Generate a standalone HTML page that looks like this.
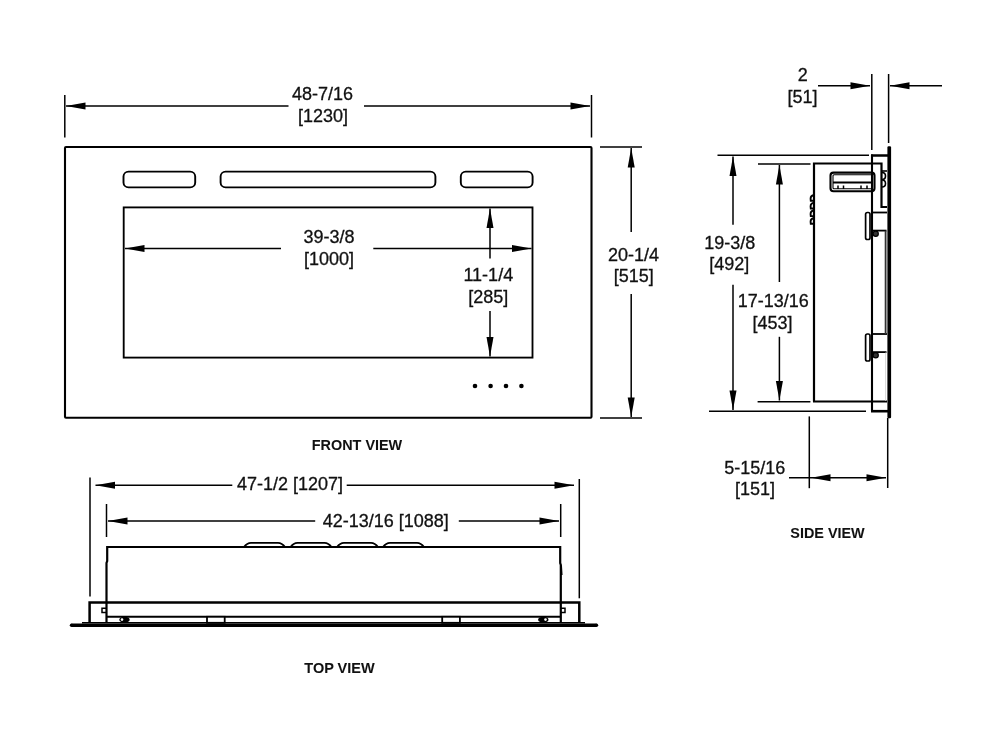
<!DOCTYPE html>
<html><head><meta charset="utf-8"><style>
html,body{margin:0;padding:0;background:#fff;width:1000px;height:750px;overflow:hidden}
svg{display:block;will-change:transform}
text{font-family:"Liberation Sans",sans-serif;fill:#111;stroke:#111;stroke-width:0.3px}
</style></head><body>
<svg width="1000" height="750" viewBox="0 0 1000 750">
<line x1="64.8" y1="95" x2="64.8" y2="137.5" stroke="#000" stroke-width="1.5"/>
<line x1="591.5" y1="95" x2="591.5" y2="137.5" stroke="#000" stroke-width="1.5"/>
<line x1="66" y1="106" x2="288.5" y2="106" stroke="#000" stroke-width="1.5"/>
<line x1="364" y1="106" x2="590" y2="106" stroke="#000" stroke-width="1.5"/>
<polygon points="66.00,106.00 85.50,102.50 85.50,109.50" fill="#000"/>
<polygon points="590.00,106.00 570.50,102.50 570.50,109.50" fill="#000"/>
<text x="322.5" y="100" font-size="18" text-anchor="middle">48-7/16</text>
<text x="323" y="122" font-size="18" text-anchor="middle">[1230]</text>
<rect x="65" y="147" width="526.5" height="270.8" rx="1" fill="none" stroke="#000" stroke-width="2.1"/>
<rect x="123.5" y="171.6" width="71.7" height="15.8" rx="5" fill="none" stroke="#000" stroke-width="1.9"/>
<rect x="220.6" y="171.6" width="214.8" height="15.8" rx="5" fill="none" stroke="#000" stroke-width="1.9"/>
<rect x="460.8" y="171.6" width="71.8" height="15.8" rx="5" fill="none" stroke="#000" stroke-width="1.9"/>
<rect x="123.7" y="207.4" width="408.8" height="150.2" fill="none" stroke="#000" stroke-width="1.85"/>
<line x1="125" y1="248.5" x2="281" y2="248.5" stroke="#000" stroke-width="1.5"/>
<line x1="373.3" y1="248.5" x2="531.5" y2="248.5" stroke="#000" stroke-width="1.5"/>
<polygon points="125.00,248.50 144.50,245.00 144.50,252.00" fill="#000"/>
<polygon points="531.50,248.50 512.00,245.00 512.00,252.00" fill="#000"/>
<text x="329" y="243" font-size="18" text-anchor="middle">39-3/8</text>
<text x="329" y="265" font-size="18" text-anchor="middle">[1000]</text>
<line x1="490" y1="208.5" x2="490" y2="258.6" stroke="#000" stroke-width="1.5"/>
<line x1="490" y1="311" x2="490" y2="356.5" stroke="#000" stroke-width="1.5"/>
<polygon points="490.00,208.50 486.50,228.00 493.50,228.00" fill="#000"/>
<polygon points="490.00,356.50 486.50,337.00 493.50,337.00" fill="#000"/>
<text x="488.3" y="281" font-size="18" text-anchor="middle">11-1/4</text>
<text x="488.2" y="303" font-size="18" text-anchor="middle">[285]</text>
<circle cx="475" cy="386" r="2.3" fill="#000"/>
<circle cx="490.6" cy="386" r="2.3" fill="#000"/>
<circle cx="506" cy="386" r="2.3" fill="#000"/>
<circle cx="521.4" cy="386" r="2.3" fill="#000"/>
<line x1="600" y1="147" x2="642" y2="147" stroke="#000" stroke-width="1.5"/>
<line x1="600" y1="418" x2="642" y2="418" stroke="#000" stroke-width="1.5"/>
<line x1="631.2" y1="148" x2="631.2" y2="232" stroke="#000" stroke-width="1.5"/>
<line x1="631.2" y1="294" x2="631.2" y2="417" stroke="#000" stroke-width="1.5"/>
<polygon points="631.20,148.00 627.70,167.50 634.70,167.50" fill="#000"/>
<polygon points="631.20,417.00 627.70,397.50 634.70,397.50" fill="#000"/>
<text x="633.5" y="260.6" font-size="18" text-anchor="middle">20-1/4</text>
<text x="633.7" y="282.3" font-size="18" text-anchor="middle">[515]</text>
<text x="357" y="449.6" font-size="14.4" font-weight="bold" style="stroke-width:0.05px" text-anchor="middle">FRONT VIEW</text>
<line x1="871.8" y1="74" x2="871.8" y2="150" stroke="#000" stroke-width="1.5"/>
<line x1="888.6" y1="74" x2="888.6" y2="143" stroke="#000" stroke-width="1.5"/>
<line x1="818" y1="85.8" x2="870" y2="85.8" stroke="#000" stroke-width="1.5"/>
<line x1="890" y1="85.8" x2="942" y2="85.8" stroke="#000" stroke-width="1.5"/>
<polygon points="870.00,85.80 850.50,82.30 850.50,89.30" fill="#000"/>
<polygon points="890.00,85.80 909.50,82.30 909.50,89.30" fill="#000"/>
<text x="802.8" y="80.9" font-size="18" text-anchor="middle">2</text>
<text x="802.6" y="102.5" font-size="18" text-anchor="middle">[51]</text>
<line x1="717.5" y1="155.3" x2="869" y2="155.3" stroke="#000" stroke-width="1.5"/>
<line x1="709" y1="411.3" x2="866" y2="411.3" stroke="#000" stroke-width="1.5"/>
<line x1="733" y1="156.5" x2="733" y2="224.8" stroke="#000" stroke-width="1.5"/>
<line x1="733" y1="284.8" x2="733" y2="410" stroke="#000" stroke-width="1.5"/>
<polygon points="733.00,156.50 729.50,176.00 736.50,176.00" fill="#000"/>
<polygon points="733.00,410.00 729.50,390.50 736.50,390.50" fill="#000"/>
<text x="729.8" y="248.5" font-size="18" text-anchor="middle">19-3/8</text>
<text x="729.2" y="270" font-size="18" text-anchor="middle">[492]</text>
<line x1="758" y1="164" x2="810.5" y2="164" stroke="#000" stroke-width="1.5"/>
<line x1="757.6" y1="401.7" x2="810.4" y2="401.7" stroke="#000" stroke-width="1.5"/>
<line x1="779.4" y1="165" x2="779.4" y2="282" stroke="#000" stroke-width="1.5"/>
<line x1="779.4" y1="336.8" x2="779.4" y2="400.5" stroke="#000" stroke-width="1.5"/>
<polygon points="779.40,165.00 775.90,184.50 782.90,184.50" fill="#000"/>
<polygon points="779.40,400.50 775.90,381.00 782.90,381.00" fill="#000"/>
<text x="773.2" y="307.2" font-size="18" text-anchor="middle">17-13/16</text>
<text x="772.6" y="328.8" font-size="18" text-anchor="middle">[453]</text>
<path d="M814,401.5 L814,163.5 L881.5,163.5 L881.5,207 L887,207" fill="none" stroke="#000" stroke-width="2.2" />
<line x1="813" y1="401.5" x2="887" y2="401.5" stroke="#000" stroke-width="2.2"/>
<line x1="872" y1="154.5" x2="872" y2="411.3" stroke="#000" stroke-width="2.1"/>
<line x1="871" y1="155.5" x2="888" y2="155.5" stroke="#000" stroke-width="2.5"/>
<line x1="871" y1="411.2" x2="888" y2="411.2" stroke="#000" stroke-width="2.6"/>
<rect x="887.4" y="146.2" width="3.7" height="272" rx="1.2" fill="#000"/>
<path d="M881.5,171 L887,171" fill="none" stroke="#000" stroke-width="1.6" />
<path d="M882,172.5 Q885.5,172.5 885.5,176 Q885.5,179.5 882,179.5 M882,180 Q885.5,180 885.5,183.5 Q885.5,187 882,187" fill="none" stroke="#000" stroke-width="1.6" />
<rect x="830.5" y="172.6" width="44" height="18.6" rx="3" fill="none" stroke="#000" stroke-width="2.1"/>
<rect x="833" y="174.8" width="39" height="14" rx="1" fill="none" stroke="#000" stroke-width="1.1"/>
<line x1="833" y1="182.5" x2="872" y2="182.5" stroke="#000" stroke-width="2.2"/>
<path d="M838,185.5 L838,189 M843.5,185.5 L843.5,189 M861,185.5 L861,189 M867,185.5 L867,189" fill="none" stroke="#000" stroke-width="1.5" />
<path d="M814,195.2 C811.5,195.2 810.6,197.2 810.6,198.79999999999998 L810.8,200.79999999999998 L814,200.79999999999998" fill="none" stroke="#000" stroke-width="1.9" />
<path d="M814,202.9 C811.5,202.9 810.6,204.9 810.6,206.5 L810.8,208.5 L814,208.5" fill="none" stroke="#000" stroke-width="1.9" />
<path d="M814,210.5 C811.5,210.5 810.6,212.5 810.6,214.1 L810.8,216.1 L814,216.1" fill="none" stroke="#000" stroke-width="1.9" />
<path d="M814,218.2 C811.5,218.2 810.6,220.2 810.6,221.79999999999998 L810.8,223.79999999999998 L814,223.79999999999998" fill="none" stroke="#000" stroke-width="1.9" />
<line x1="872" y1="212.5" x2="887" y2="212.5" stroke="#000" stroke-width="1.8"/>
<rect x="865.6" y="212.5" width="4.4" height="27" rx="1.8" fill="none" stroke="#000" stroke-width="1.7"/>
<line x1="872" y1="230.6" x2="886.5" y2="230.6" stroke="#000" stroke-width="1.8"/>
<circle cx="875.7" cy="233.8" r="2.6" fill="#333" stroke="#000" stroke-width="1.2"/>
<line x1="872" y1="334" x2="887" y2="334" stroke="#000" stroke-width="1.8"/>
<rect x="865.6" y="334" width="4.4" height="27" rx="1.8" fill="none" stroke="#000" stroke-width="1.7"/>
<line x1="872" y1="352.1" x2="886.5" y2="352.1" stroke="#000" stroke-width="1.8"/>
<circle cx="875.7" cy="355.3" r="2.6" fill="#333" stroke="#000" stroke-width="1.2"/>
<line x1="885.6" y1="230.7" x2="885.6" y2="334" stroke="#333" stroke-width="1.8"/>
<line x1="885.6" y1="352.5" x2="885.6" y2="401" stroke="#ccc" stroke-width="0.8"/>
<line x1="809.3" y1="416.4" x2="809.3" y2="488.2" stroke="#000" stroke-width="1.5"/>
<line x1="887.7" y1="418" x2="887.7" y2="488" stroke="#000" stroke-width="1.5"/>
<line x1="789" y1="477.8" x2="886" y2="477.8" stroke="#000" stroke-width="1.5"/>
<polygon points="811.00,477.80 830.50,474.30 830.50,481.30" fill="#000"/>
<polygon points="886.00,477.80 866.50,474.30 866.50,481.30" fill="#000"/>
<text x="754.7" y="474.2" font-size="18" text-anchor="middle">5-15/16</text>
<text x="754.9" y="495" font-size="18" text-anchor="middle">[151]</text>
<text x="827.5" y="537.5" font-size="14.4" font-weight="bold" style="stroke-width:0.05px" text-anchor="middle">SIDE VIEW</text>
<line x1="90" y1="477.5" x2="90" y2="596.5" stroke="#000" stroke-width="1.5"/>
<line x1="579.3" y1="479" x2="579.3" y2="598.3" stroke="#000" stroke-width="1.5"/>
<line x1="95.5" y1="485.3" x2="232.3" y2="485.3" stroke="#000" stroke-width="1.5"/>
<line x1="346.7" y1="485.3" x2="574" y2="485.3" stroke="#000" stroke-width="1.5"/>
<polygon points="95.50,485.30 115.00,481.80 115.00,488.80" fill="#000"/>
<polygon points="574.00,485.30 554.50,481.80 554.50,488.80" fill="#000"/>
<text x="290" y="490.3" font-size="18" text-anchor="middle">47-1/2 [1207]</text>
<line x1="106.5" y1="504" x2="106.5" y2="537" stroke="#000" stroke-width="1.5"/>
<line x1="560.7" y1="504" x2="560.7" y2="537" stroke="#000" stroke-width="1.5"/>
<line x1="108" y1="521" x2="315.2" y2="521" stroke="#000" stroke-width="1.5"/>
<line x1="458.8" y1="521" x2="559" y2="521" stroke="#000" stroke-width="1.5"/>
<polygon points="108.00,521.00 127.50,517.50 127.50,524.50" fill="#000"/>
<polygon points="559.00,521.00 539.50,517.50 539.50,524.50" fill="#000"/>
<text x="385.8" y="527.2" font-size="18" text-anchor="middle">42-13/16 [1088]</text>
<path d="M106.5,623 L106.5,563 L107.2,561 L107.2,547 L560.2,547 L560.2,563 L560.8,565 L560.8,623" fill="none" stroke="#000" stroke-width="2.2" />
<polygon points="560,563 562,566 562.6,575 560,575" fill="#000"/>
<path d="M244,547 Q247,542.8 251,542.8 L278,542.8 Q282,542.8 285,547" fill="none" stroke="#000" stroke-width="1.8" />
<path d="M290.5,547 Q293.5,542.8 297.5,542.8 L324.5,542.8 Q328.5,542.8 331.5,547" fill="none" stroke="#000" stroke-width="1.8" />
<path d="M337,547 Q340,542.8 344,542.8 L371,542.8 Q375,542.8 378,547" fill="none" stroke="#000" stroke-width="1.8" />
<path d="M383,547 Q386,542.8 390,542.8 L417,542.8 Q421,542.8 424,547" fill="none" stroke="#000" stroke-width="1.8" />
<path d="M89.6,623 L89.6,602.4 L579.3,602.4 L579.3,623" fill="none" stroke="#000" stroke-width="2.5" />
<line x1="106.5" y1="616.8" x2="560.7" y2="616.8" stroke="#000" stroke-width="2.0"/>
<line x1="82" y1="622.8" x2="585" y2="622.8" stroke="#000" stroke-width="1.4"/>
<line x1="71.5" y1="625.2" x2="596.5" y2="625.2" stroke="#000" stroke-width="3.4"/>
<circle cx="71.5" cy="625.2" r="1.7" fill="#000"/><circle cx="596.5" cy="625.2" r="1.7" fill="#000"/>
<rect x="207" y="616.8" width="17.7" height="6" fill="#fff" stroke="#000" stroke-width="1.8"/>
<rect x="442.2" y="616.8" width="17.7" height="6" fill="#fff" stroke="#000" stroke-width="1.8"/>
<ellipse cx="124.5" cy="619.7" rx="5.2" ry="3" fill="#000"/><circle cx="122" cy="619.6" r="1.3" fill="#fff"/>
<ellipse cx="543.3" cy="619.7" rx="5.2" ry="3" fill="#000"/><circle cx="545.5" cy="619.6" r="1.3" fill="#fff"/>
<path d="M106.5,608.2 L102,608.2 L102,612.4 L106.5,612.4" fill="none" stroke="#000" stroke-width="1.5" />
<path d="M560.7,608.2 L565,608.2 L565,612.4 L560.7,612.4" fill="none" stroke="#000" stroke-width="1.5" />
<text x="339.5" y="672.6" font-size="14.5" font-weight="bold" style="stroke-width:0.05px" text-anchor="middle">TOP VIEW</text>
</svg>
</body></html>
